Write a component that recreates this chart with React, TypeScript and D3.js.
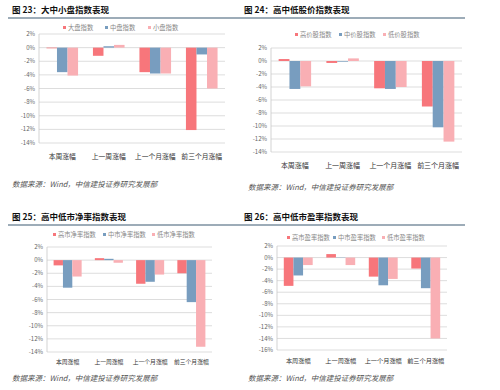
import React, { useEffect, useRef } from 'react';
import * as d3 from 'd3';

const categories = ['本周涨幅', '上一周涨幅', '上一个月涨幅', '前三个月涨幅'];
const colors = ['#F7767B', '#789DBF', '#F9AFB4'];

// 图23
const sizeNames = ['大盘指数', '中盘指数', '小盘指数'];
const sizeLarge = [-0.1, -1.2, -3.6, -12.1];
const sizeMid = [-3.6, 0.2, -3.8, -1.0];
const sizeSmall = [-4.1, 0.4, -3.8, -6.0];

// 图24
const priceNames = ['高价股指数', '中价股指数', '低价股指数'];
const priceHigh = [0.3, -0.3, -4.2, -7.0];
const priceMid = [-4.3, -0.1, -4.3, -10.2];
const priceLow = [-3.9, 0.4, -4.0, -12.4];

// 图25
const pbNames = ['高市净率指数', '中市净率指数', '低市净率指数'];
const pbHigh = [-0.8, 0.3, -3.6, -2.0];
const pbMid = [-4.2, 0.2, -3.3, -6.4];
const pbLow = [-2.5, -0.4, -2.2, -13.2];

// 图26
const peNames = ['高市盈率指数', '中市盈率指数', '低市盈率指数'];
const peHigh = [-4.9, 0.6, -3.3, -1.9];
const peMid = [-3.1, 0.05, -4.8, -5.3];
const peLow = [-1.3, -1.3, -3.7, -14.0];

const ticks14 = [2, 0, -2, -4, -6, -8, -10, -12, -14];
const ticks16 = [2, 0, -2, -4, -6, -8, -10, -12, -14, -16];

const source = '数据来源：Wind，中信建投证券研究发展部';

interface PanelCfg {
  title: string;
  names: string[];
  series: number[][];
  ticks: number[];
  titleX: number;
  titleY: number;
  lineX: [number, number];
  legendX: number[];
  legendY: number;
  plotX: [number, number];
  plotY: [number, number];
  catY: number;
  catFont: number;
  sourceX: number;
  sourceY: number;
}

const panels: PanelCfg[] = [
  {
    title: '图 23：大中小盘指数表现', names: sizeNames, series: [sizeLarge, sizeMid, sizeSmall], ticks: ticks14,
    titleX: 12, titleY: 13, lineX: [8, 240], legendX: [63, 105, 148], legendY: 28,
    plotX: [39, 225], plotY: [34, 143], catY: 157, catFont: 6.8, sourceX: 12, sourceY: 187,
  },
  {
    title: '图 24：高中低股价指数表现', names: priceNames, series: [priceHigh, priceMid, priceLow], ticks: ticks14,
    titleX: 244, titleY: 13, lineX: [240, 465], legendX: [295, 339, 383], legendY: 35,
    plotX: [271, 462], plotY: [48, 152], catY: 166, catFont: 7, sourceX: 248, sourceY: 190,
  },
  {
    title: '图 25：高中低市净率指数表现', names: pbNames, series: [pbHigh, pbMid, pbLow], ticks: ticks14,
    titleX: 12, titleY: 220, lineX: [8, 240], legendX: [53, 103, 152], legendY: 235,
    plotX: [47, 212], plotY: [247, 352], catY: 362, catFont: 5.8, sourceX: 12, sourceY: 381,
  },
  {
    title: '图 26：高中低市盈率指数表现', names: peNames, series: [peHigh, peMid, peLow], ticks: ticks16,
    titleX: 244, titleY: 220, lineX: [240, 465], legendX: [287, 333, 382], legendY: 238,
    plotX: [277, 447], plotY: [246, 350], catY: 361, catFont: 6.2, sourceX: 248, sourceY: 381,
  },
];

const font = '"Noto Sans CJK SC", "Noto Sans", sans-serif';

const App: React.FC = () => {
  const svgRef = useRef<SVGSVGElement>(null);

  useEffect(() => {
    if (!svgRef.current) return;
    const svg = d3.select(svgRef.current);
    svg.selectAll('*').remove();

    svg.append('rect').attr('width', 500).attr('height', 390).attr('fill', '#fff');

    panels.forEach((p) => {
      const g = svg.append('g');

      // title
      g.append('text')
        .attr('x', p.titleX)
        .attr('y', p.titleY)
        .attr('font-size', 8.5)
        .attr('font-weight', 'bold')
        .attr('fill', '#111')
        .text(p.title);

      g.append('line')
        .attr('x1', p.lineX[0]).attr('x2', p.lineX[1])
        .attr('y1', p.titleY + 5).attr('y2', p.titleY + 5)
        .attr('stroke', '#3D5A73').attr('stroke-width', 1.2);

      // legend
      p.names.forEach((n, i) => {
        g.append('rect')
          .attr('x', p.legendX[i])
          .attr('y', p.legendY - 2)
          .attr('width', 3).attr('height', 3)
          .attr('fill', colors[i]);
        g.append('text')
          .attr('x', p.legendX[i] + 5)
          .attr('y', p.legendY)
          .attr('dy', '0.35em')
          .attr('font-size', 6.3)
          .attr('fill', '#888')
          .text(n);
      });

      const lo = d3.min(p.ticks) as number;
      const hi = d3.max(p.ticks) as number;
      const y = d3.scaleLinear().domain([lo, hi]).range([p.plotY[1], p.plotY[0]]);
      const x0 = d3.scaleBand<string>().domain(categories).range(p.plotX).paddingInner(0.32).paddingOuter(0.16);
      const x1 = d3.scaleBand<number>().domain([0, 1, 2]).range([0, x0.bandwidth()]);

      // grid
      g.selectAll('.grid')
        .data(p.ticks)
        .enter()
        .append('line')
        .attr('x1', p.plotX[0]).attr('x2', p.plotX[1])
        .attr('y1', (d) => y(d)).attr('y2', (d) => y(d))
        .attr('stroke', '#D4D4D4').attr('stroke-width', 0.8);

      g.selectAll('.tick')
        .data(p.ticks)
        .enter()
        .append('text')
        .attr('x', p.plotX[0] - 4)
        .attr('y', (d) => y(d))
        .attr('dy', '0.35em')
        .attr('text-anchor', 'end')
        .attr('font-size', 6)
        .attr('fill', '#666')
        .text((d) => `${d}%`);

      // bars
      p.series.forEach((vals, si) => {
        g.selectAll(`.bar${si}`)
          .data(vals)
          .enter()
          .append('rect')
          .attr('x', (_, i) => (x0(categories[i]) as number) + (x1(si) as number))
          .attr('width', x1.bandwidth())
          .attr('y', (d) => y(Math.max(0, d)))
          .attr('height', (d) => Math.abs(y(d) - y(0)))
          .attr('fill', colors[si]);
      });

      // left axis
      g.append('line')
        .attr('x1', p.plotX[0]).attr('x2', p.plotX[0])
        .attr('y1', p.plotY[0]).attr('y2', p.plotY[1])
        .attr('stroke', '#C8C8C8').attr('stroke-width', 0.8);

      // category labels
      g.selectAll('.cat')
        .data(categories)
        .enter()
        .append('text')
        .attr('x', (d) => (x0(d) as number) + x0.bandwidth() / 2)
        .attr('y', p.catY)
        .attr('dy', '0.35em')
        .attr('text-anchor', 'middle')
        .attr('font-size', p.catFont)
        .attr('fill', '#333')
        .text((d) => d);

      // source
      g.append('text')
        .attr('x', p.sourceX)
        .attr('y', p.sourceY)
        .attr('font-size', 7.5)
        .attr('font-style', 'italic')
        .attr('fill', '#555')
        .text(source);
    });
  }, []);

  return (
    <svg
      ref={svgRef}
      width={500}
      height={390}
      style={{ position: 'absolute', left: 0, top: 0, fontFamily: font }}
    />
  );
};

export default App;
